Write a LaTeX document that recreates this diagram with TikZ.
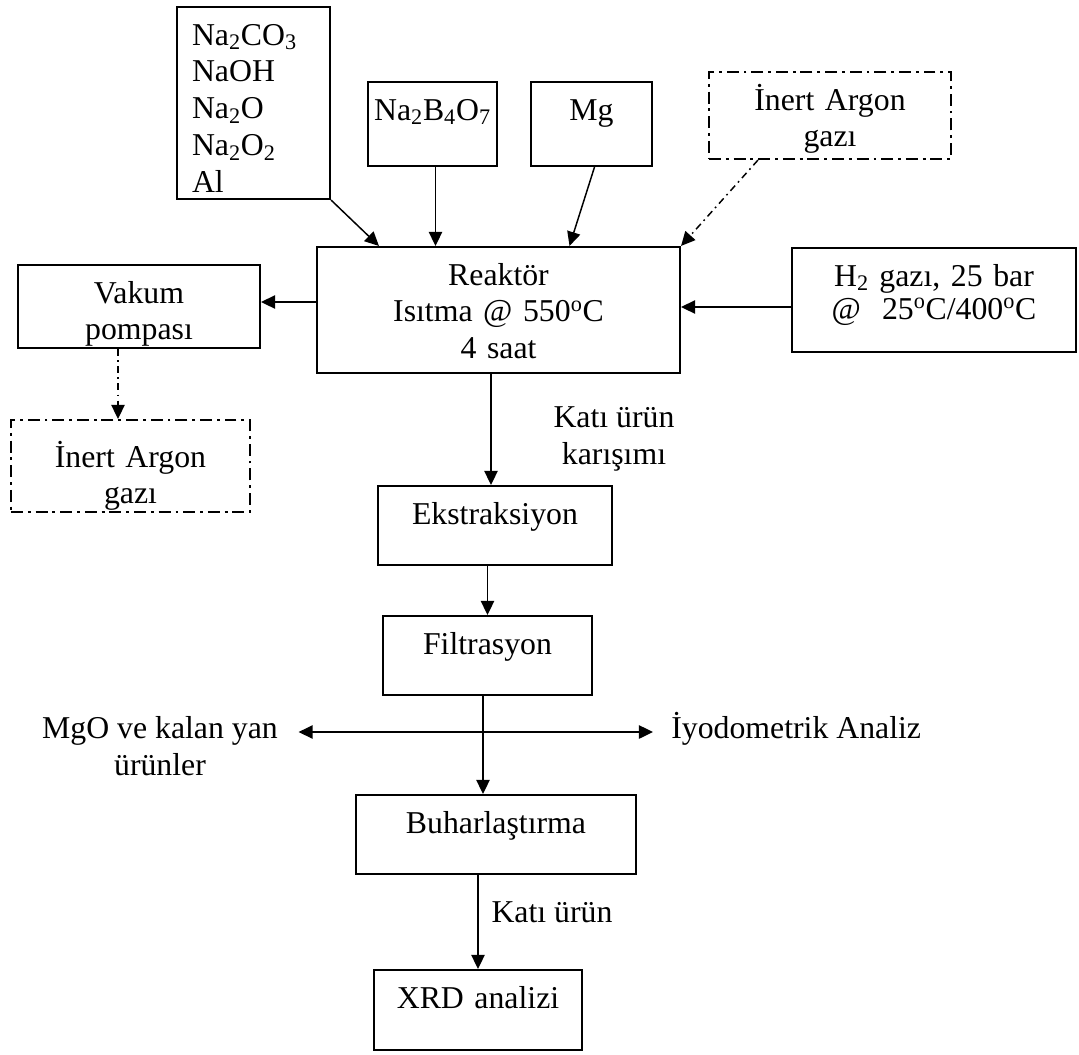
\documentclass[tikz,border=0pt]{standalone}
\usepackage{fontspec}
\setmainfont{Liberation Serif}
\usetikzlibrary{arrows.meta}
\newlength\pxl
\setlength\pxl{0.025cm}
\begin{document}
\begin{tikzpicture}[x=0.025cm,y=-0.025cm,
  every node/.style={font=\fontsize{22.6}{26.2}\selectfont},
  kutu/.style 2 args={draw,line width=1.5pt,inner sep=0pt,align=center,
    text width=#1\pxl,text height=38\pxl,text depth=#2\pxl-38\pxl},
  gaz/.style={dash pattern=on 8.5pt off 3.5pt on 2pt off 3.5pt},
  ok/.style={line width=1.05pt,-{Triangle[length=10pt,width=9.5pt]}},
  okcift/.style={line width=1.05pt,{Triangle[length=10pt,width=9.5pt]}-{Triangle[length=10pt,width=9.5pt]}},
  noktaok/.style={ok,dash pattern=on 5pt off 3pt on 1.2pt off 3pt}]
\useasboundingbox (0,0) rectangle (1079,1054);
% girdiler
\node[kutu={123}{192},align=left,inner xsep=15\pxl] (kimyasal) at (253.5,103)
  {Na\textsubscript{2}CO\textsubscript{3}\\NaOH\\Na\textsubscript{2}O\\Na\textsubscript{2}O\textsubscript{2}\\Al};
\node[kutu={129}{84}] (boraks) at (432.5,124) {Na\textsubscript{2}B\textsubscript{4}O\textsubscript{7}};
\node[kutu={121}{84}] (mg) at (591.5,124) {Mg};
\node[kutu={242}{87},gaz] (argonust) at (830,115.5) {İnert Argon\\gazı};
% reaktor
\node[kutu={363}{126}] (reaktor) at (498.5,310) {Reaktör\\Isıtma @ 550\textsuperscript{o}C\\4 saat};
\node[kutu={284}{104}] (h2) at (934,300)
  {H\textsubscript{2} gazı, 25 bar\\[-2.5pt]@~ 25\textsuperscript{o}C/400\textsuperscript{o}C};
\node[kutu={242}{83}] (vakum) at (139,306.5) {Vakum\\pompası};
\node[kutu={239}{92},gaz,text height=47\pxl,text depth=45\pxl] (argonsol) at (130.5,466) {İnert Argon\\gazı};
% ayirma adimlari
\node[kutu={234}{79}] (ekstr) at (495,525.5) {Ekstraksiyon};
\node[kutu={209}{79}] (filtr) at (487.5,655.5) {Filtrasyon};
\node[kutu={280}{79}] (buhar) at (496,834.5) {Buharlaştırma};
\node[kutu={208}{80}] (xrd) at (478,1010) {XRD analizi};
\node[align=center] (karisim) at (614,439) {Katı ürün\\karışımı};
\node (katiurun) at (552,912) {Katı ürün};
\node[align=center,inner ysep=0pt,inner xsep=20.5\pxl] (mgo) at (160,746) {MgO ve kalan yan\\ürünler};
\node[anchor=base west,inner ysep=0pt,inner xsep=18\pxl,text height=12\pxl,text depth=0pt] (iyodo) at (653,738) {İyodometrik Analiz};
% oklar
\draw[ok] (kimyasal.south east) -- ([xshift=63\pxl]reaktor.north west);
\draw[ok] ([xshift=3\pxl]boraks.south) -- ([xshift=3\pxl]boraks.south |- reaktor.north);
\draw[ok] ([xshift=3\pxl]mg.south) -- ([xshift=71\pxl]reaktor.north);
\draw[noktaok] ([xshift=-72\pxl]argonust.south) -- (reaktor.north east);
\draw[ok] ([yshift=-7\pxl]h2.west) -- ([yshift=-7\pxl]h2.west -| reaktor.east);
\draw[ok] ([yshift=8\pxl]reaktor.west) -- ([yshift=8\pxl]reaktor.west -| vakum.east);
\draw[noktaok] ([xshift=-21\pxl]vakum.south) -- ([xshift=-21\pxl]vakum.south |- argonsol.north);
\draw[ok] ([xshift=-7.5\pxl]reaktor.south) -- ([xshift=-7.5\pxl]reaktor.south |- ekstr.north);
\draw[ok] (filtr.north |- ekstr.south) -- (filtr.north);
\draw[ok] ([xshift=-4.5\pxl]filtr.south) -- ([xshift=-4.5\pxl]filtr.south |- buhar.north);
\draw[okcift] (mgo.east |- iyodo.west) -- (iyodo.west);
\draw[ok] (xrd.north |- buhar.south) -- (xrd.north);
\end{tikzpicture}
\end{document}
